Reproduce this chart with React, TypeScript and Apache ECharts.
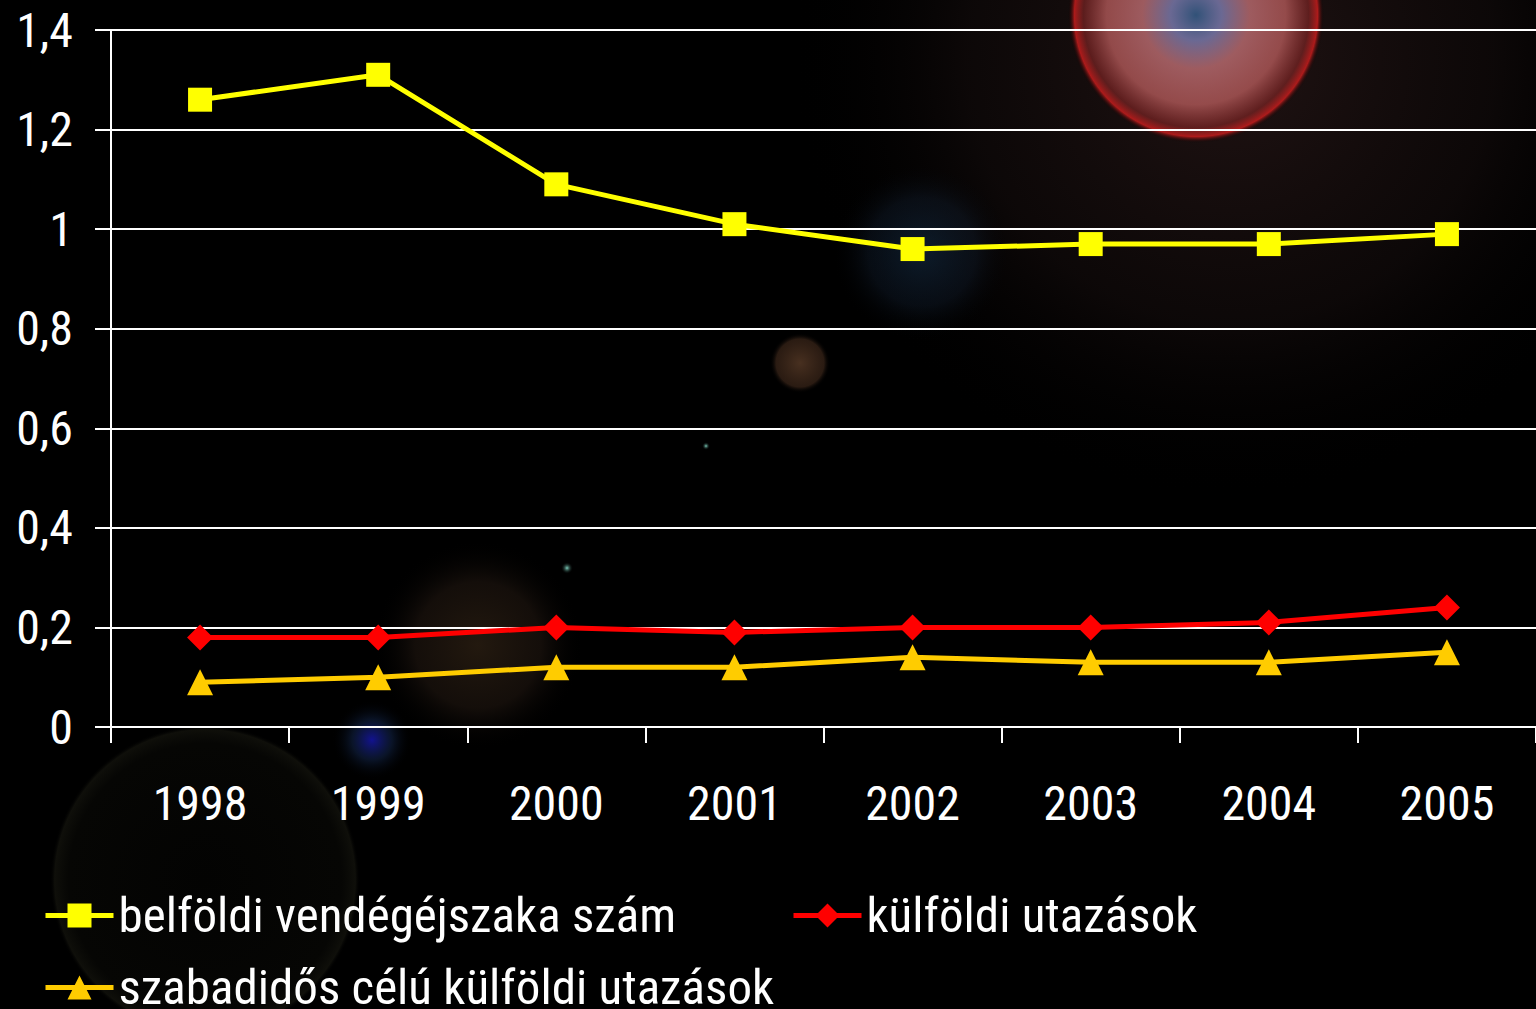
import React, { useEffect, useRef } from "react";
import * as echarts from "echarts";

const years = ["1998", "1999", "2000", "2001", "2002", "2003", "2004", "2005"];
const belfoldi = [1.26, 1.31, 1.09, 1.01, 0.96, 0.97, 0.97, 0.99];
const kulfoldi = [0.18, 0.18, 0.2, 0.19, 0.2, 0.2, 0.21, 0.24];
const szabadidos = [0.09, 0.1, 0.12, 0.12, 0.14, 0.13, 0.13, 0.15];
const seriesNames = [
  "belföldi vendégéjszaka szám",
  "külföldi utazások",
  "szabadidős célú külföldi utazások",
];

const FONT = '"Liberation Sans Narrow", "Arial Narrow", "Roboto Condensed", "DejaVu Sans Condensed", sans-serif';

function flare(cx: number, cy: number, r: number, stops: [number, string][]) {
  return {
    type: "circle",
    z: -10,
    silent: true,
    shape: { cx, cy, r },
    style: {
      fill: {
        type: "radial",
        x: 0.5,
        y: 0.5,
        r: 0.5,
        colorStops: stops.map(([offset, color]) => ({ offset, color })),
      },
    },
  };
}

export default function App() {
  const ref = useRef<HTMLDivElement>(null);
  useEffect(() => {
    if (!ref.current) return;
    const chart = echarts.init(ref.current, null, { renderer: "svg" });
    const legendText = { color: "#ffffff", fontSize: 49, fontFamily: FONT };
    const legendCommon = {
      itemWidth: 68,
      itemHeight: 30,
      itemGap: 0,
      textStyle: legendText,
      lineStyle: { width: 5 },
    };
    chart.setOption({
      animation: false,
      backgroundColor: "#000000",
      graphic: [
        flare(1230, 60, 440, [
          [0, "rgba(60,35,35,0.55)"],
          [0.6, "rgba(35,22,22,0.35)"],
          [1, "rgba(0,0,0,0)"],
        ]),
        flare(1196, 15, 128, [
          [0, "rgba(50,85,125,0.95)"],
          [0.2, "rgba(120,120,170,0.85)"],
          [0.42, "rgba(190,110,115,0.8)"],
          [0.7, "rgba(200,100,100,0.7)"],
          [0.88, "rgba(140,40,40,0.6)"],
          [0.95, "rgba(210,30,30,0.8)"],
          [1, "rgba(0,0,0,0)"],
        ]),
        flare(922, 252, 90, [
          [0, "rgba(20,45,70,0.6)"],
          [0.6, "rgba(20,35,55,0.35)"],
          [1, "rgba(0,0,0,0)"],
        ]),
        flare(800, 363, 30, [
          [0, "rgba(90,60,40,0.8)"],
          [0.8, "rgba(70,45,30,0.6)"],
          [1, "rgba(0,0,0,0)"],
        ]),
        flare(478, 645, 105, [
          [0, "rgba(70,50,30,0.5)"],
          [0.6, "rgba(50,35,25,0.4)"],
          [1, "rgba(0,0,0,0)"],
        ]),
        flare(372, 740, 40, [
          [0, "rgba(20,20,160,0.9)"],
          [0.5, "rgba(20,40,80,0.5)"],
          [1, "rgba(0,0,0,0)"],
        ]),
        flare(205, 880, 155, [
          [0, "rgba(20,20,15,0.15)"],
          [0.88, "rgba(30,30,20,0.2)"],
          [0.97, "rgba(60,60,40,0.25)"],
          [1, "rgba(0,0,0,0)"],
        ]),
        flare(567, 568, 6, [
          [0, "rgba(140,230,210,0.9)"],
          [1, "rgba(0,0,0,0)"],
        ]),
        flare(706, 446, 4, [
          [0, "rgba(140,230,210,0.9)"],
          [1, "rgba(0,0,0,0)"],
        ]),
      ],
      grid: { left: 111, top: 30, width: 1429, height: 697, containLabel: false },
      legend: [
        { ...legendCommon, data: [seriesNames[0]], left: 38, top: 886 },
        { ...legendCommon, data: [seriesNames[1]], left: 786, top: 886 },
        { ...legendCommon, data: [seriesNames[2]], left: 38, top: 958 },
      ],
      xAxis: {
        type: "category",
        data: years,
        boundaryGap: true,
        axisLine: { show: true, lineStyle: { color: "#ffffff", width: 2 } },
        axisTick: { show: true, length: 16, lineStyle: { color: "#ffffff", width: 2 } },
        axisLabel: { color: "#ffffff", fontSize: 48, fontFamily: FONT, margin: 52 },
        splitLine: { show: false },
      },
      yAxis: {
        type: "value",
        min: 0,
        max: 1.4,
        interval: 0.2,
        axisLine: { show: true, lineStyle: { color: "#ffffff", width: 2 } },
        axisTick: { show: true, length: 16, lineStyle: { color: "#ffffff", width: 2 } },
        axisLabel: {
          color: "#ffffff",
          fontSize: 48,
          fontFamily: FONT,
          margin: 38,
          formatter: (v: number) => String(Number(v.toFixed(1))).replace(".", ","),
        },
        splitLine: { show: true, lineStyle: { color: "#ffffff", width: 2 } },
      },
      series: [
        {
          name: seriesNames[0],
          type: "line",
          data: belfoldi,
          symbol: "rect",
          symbolSize: 24,
          z: 4,
          itemStyle: { color: "#ffff00" },
          lineStyle: { color: "#ffff00", width: 5 },
        },
        {
          name: seriesNames[1],
          type: "line",
          data: kulfoldi,
          symbol: "diamond",
          symbolSize: 26,
          z: 3,
          itemStyle: { color: "#ff0000" },
          lineStyle: { color: "#ff0000", width: 5 },
        },
        {
          name: seriesNames[2],
          type: "line",
          data: szabadidos,
          symbol: "triangle",
          symbolSize: 26,
          z: 3,
          itemStyle: { color: "#ffcc00" },
          lineStyle: { color: "#ffcc00", width: 5 },
        },
      ],
    });
    return () => chart.dispose();
  }, []);
  return <div ref={ref} style={{ width: 1536, height: 1009, position: "absolute", left: 0, top: 0 }} />;
}
